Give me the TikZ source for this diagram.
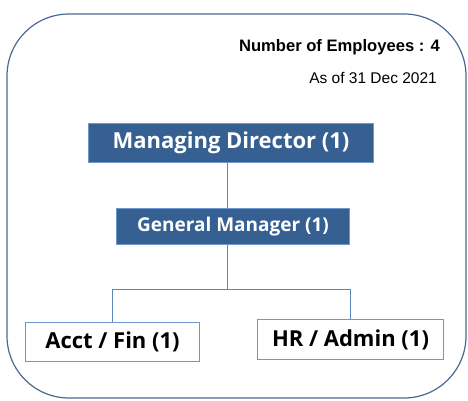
\documentclass[tikz,border=0pt]{standalone}
\usepackage{fontspec}
\setmainfont{Liberation Sans}
\newfontfamily\boxfont{Open Sans}
\definecolor{frameblue}{HTML}{4A6891}
\definecolor{darkfill}{HTML}{376092}
\definecolor{edgeblue}{HTML}{6F97CF}
\definecolor{linkblue}{HTML}{5B86C0}
\begin{document}
\begin{tikzpicture}[x=1pt,y=-1pt,
  darkbox/.style={draw=edgeblue,line width=1pt,fill=darkfill,text=white,
    inner sep=0pt, anchor=north west},
  lightbox/.style={draw=edgeblue,line width=1pt,fill=white,text=black,
    font=\boxfont\bfseries\fontsize{22}{24}\selectfont, inner sep=0pt, anchor=north west},
  note/.style={anchor=east,inner sep=0pt},
  link/.style={draw=linkblue,line width=0.8pt}]
\useasboundingbox (0,0) rectangle (468,400);
% outer frame
\draw[frameblue,line width=1.2pt,rounded corners=62pt] (7,14) rectangle (466,398);
% header notes
\node[note,font=\bfseries\fontsize{16.6}{18}\selectfont] (count) at (440,47) {Number of Employees : 4};
\node[note,font=\fontsize{15.5}{18}\selectfont] (asof) at (437,78) {As of 31 Dec 2021};
% boxes
\node[darkbox,minimum width=285pt,minimum height=39pt,font=\boxfont\bfseries\fontsize{22}{24}\selectfont] (md) at (88,123) {Managing Director (1)};
\node[darkbox,minimum width=233pt,minimum height=36pt,font=\boxfont\bfseries\fontsize{19}{21}\selectfont] (gm) at (116,208) {General Manager (1)};
\node[lightbox,minimum width=174pt,minimum height=39pt] (acct) at (25,322) {Acct / Fin (1)};
\node[lightbox,minimum width=186pt,minimum height=40pt] (hr) at (257,319) {HR / Admin (1)};
% connectors
\coordinate (split) at (227,289);
\coordinate (lbranch) at (112,289);
\coordinate (rbranch) at (350,289);
\draw[link] (split |- md.south) -- (split |- gm.north);
\draw[link] (split |- gm.south) -- (split);
\draw[link] (lbranch) -- (rbranch);
\draw[link] (lbranch) -- (lbranch |- acct.north);
\draw[link] (rbranch) -- (rbranch |- hr.north);
\end{tikzpicture}
\end{document}
